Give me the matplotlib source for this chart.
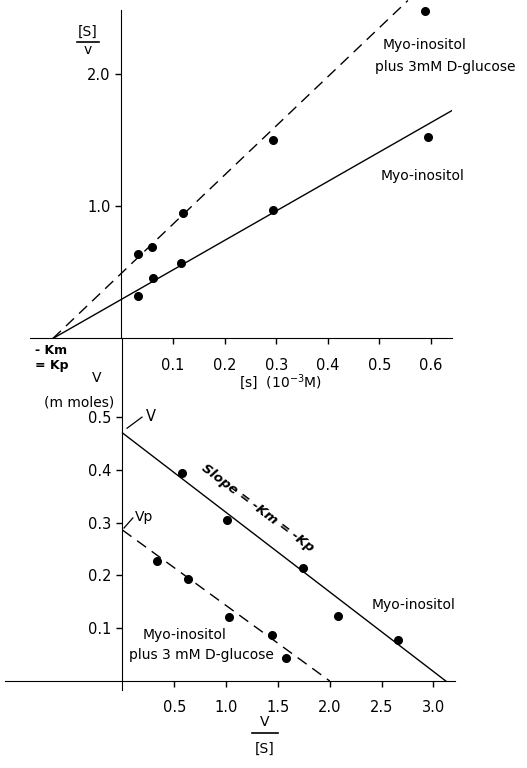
import matplotlib
matplotlib.use('Agg')
import matplotlib.pyplot as plt
from matplotlib.lines import Line2D

plt.rcParams['font.family'] = ['DejaVu Sans']
plt.rcParams['font.size'] = 10

# ---- data: Lineweaver-Burk style plot ([S]/v vs [S]) ----
myo_s = [0.032, 0.061, 0.115, 0.294, 0.594]
myo_sv = [0.32, 0.46, 0.57, 0.97, 1.53]
glc_s = [0.032, 0.059, 0.119, 0.294, 0.588]
glc_sv = [0.64, 0.69, 0.95, 1.50, 2.48]
myo_fit_s = [-0.133, 0.745]
myo_fit_sv = [0.0, 1.96]
glc_fit_s = [-0.133, 0.555]
glc_fit_sv = [0.0, 2.56]
top_xticks = [0.1, 0.2, 0.3, 0.4, 0.5, 0.6]
top_yticks = [1.0, 2.0]

# ---- data: Eadie-Hofstee style plot (v vs v/[S]) ----
myo_vs = [0.574, 1.01, 1.74, 2.08, 2.66]
myo_v = [0.394, 0.305, 0.214, 0.123, 0.078]
glc_vs = [0.333, 0.632, 1.03, 1.44, 1.58]
glc_v = [0.227, 0.193, 0.121, 0.087, 0.044]
myo_fit_vs = [0.0, 3.12]
myo_fit_v = [0.47, 0.0]
glc_fit_vs = [0.0, 2.0]
glc_fit_v = [0.286, 0.0]
bot_xticks = [0.5, 1.0, 1.5, 2.0, 2.5, 3.0]
bot_yticks = [0.1, 0.2, 0.3, 0.4, 0.5]

W, H = 527, 768
fig = plt.figure(figsize=(W / 100, H / 100), dpi=100)


def ftext(x, y, s, **kw):
    fig.text(x / W, 1 - y / H, s, **kw)


dash = (8, 5)

# top panel
ax1 = fig.add_axes([30 / W, 1 - 338.5 / H, 422 / W, 338.5 / H])
ax1.set_xlim(-0.1773, 0.6405)
ax1.set_ylim(0, 2.564)
ax1.patch.set_alpha(0)
for s in ['top', 'right']:
    ax1.spines[s].set_visible(False)
ax1.spines['left'].set_position(('data', 0))
ax1.spines['left'].set_bounds(0, 2.49)
ax1.plot(myo_fit_s, myo_fit_sv, color='black', lw=1.0)
ax1.plot(glc_fit_s, glc_fit_sv, color='black', lw=1.0, dashes=dash)
ax1.plot(myo_s, myo_sv, 'o', color='black', ms=5.5)
ax1.plot(glc_s, glc_sv, 'o', color='black', ms=5.5)
ax1.set_xticks(top_xticks)
ax1.set_xticklabels([f'{t:.1f}' for t in top_xticks])
ax1.set_yticks(top_yticks)
ax1.set_yticklabels([f'{t:.1f}' for t in top_yticks])
ax1.tick_params(axis='x', direction='out', length=4, width=1, pad=10, labelsize=10.5)
ax1.tick_params(axis='y', direction='out', length=4, width=1, pad=4, labelsize=10.5)

# bottom panel
ax2 = fig.add_axes([5 / W, 1 - 700 / H, 450 / W, 361.5 / H])
ax2.set_xlim(-1.134, 3.209)
ax2.set_ylim(-0.036, 0.649)
ax2.patch.set_alpha(0)
for s in ['top', 'right']:
    ax2.spines[s].set_visible(False)
ax2.spines['left'].set_position(('data', 0))
ax2.spines['left'].set_bounds(-0.017, 0.649)
ax2.spines['bottom'].set_position(('data', 0))
ax2.plot(myo_fit_vs, myo_fit_v, color='black', lw=1.0)
ax2.plot(glc_fit_vs, glc_fit_v, color='black', lw=1.0, dashes=dash)
ax2.plot(myo_vs, myo_v, 'o', color='black', ms=5.5)
ax2.plot(glc_vs, glc_v, 'o', color='black', ms=5.5)
ax2.set_xticks(bot_xticks)
ax2.set_xticklabels([f'{t:.1f}' for t in bot_xticks])
ax2.set_yticks(bot_yticks)
ax2.set_yticklabels([f'{t:.1f}' for t in bot_yticks])
ax2.tick_params(axis='x', direction='out', length=4, width=1, pad=10, labelsize=10.5)
ax2.tick_params(axis='y', direction='out', length=4, width=1, pad=4, labelsize=10.5)

# intercept leaders in bottom panel
ax2.plot([0.044, 0.188], [0.479, 0.500], color='black', lw=0.9)
ax2.text(0.23, 0.502, 'V', ha='left', va='center', fontsize=10.5)
ax2.plot([0.015, 0.10], [0.29, 0.309], color='black', lw=0.9)
ax2.text(0.12, 0.311, 'Vp', ha='left', va='center', fontsize=10)

# labels, top panel
ftext(88, 32, '[S]', ha='center', va='center', fontsize=10)
fig.add_artist(Line2D([77 / W, 99 / W], [1 - 42 / H, 1 - 42 / H], color='black', lw=1.2))
ftext(88, 50, 'v', ha='center', va='center', fontsize=10)
ftext(383, 45, 'Myo-inositol', ha='left', va='center')
ftext(375, 67, 'plus 3mM D-glucose', ha='left', va='center')
ftext(381, 176, 'Myo-inositol', ha='left', va='center')
ftext(35, 350, '- Km', ha='left', va='center', fontsize=9, weight='bold')
ftext(35, 366, '= Kp', ha='left', va='center', fontsize=9, weight='bold')
ftext(280, 382, '[s]  (10$^{-3}$M)', ha='center', va='center')

# labels, bottom panel
ftext(97, 378, 'V', ha='center', va='center')
ftext(79, 403, '(m moles)', ha='center', va='center')
ftext(258, 508, 'Slope = -Km = -Kp', ha='center', va='center',
      rotation=-37, fontsize=9.5, style='italic', weight='bold')
ftext(372, 605, 'Myo-inositol', ha='left', va='center')
ftext(185, 635, 'Myo-inositol', ha='center', va='center')
ftext(201, 655, 'plus 3 mM D-glucose', ha='center', va='center')
ftext(265, 722, 'V', ha='center', va='center')
fig.add_artist(Line2D([252 / W, 278 / W], [1 - 733 / H, 1 - 733 / H], color='black', lw=1.2))
ftext(265, 749, '[S]', ha='center', va='center')

fig.savefig('out.png', dpi=100)
